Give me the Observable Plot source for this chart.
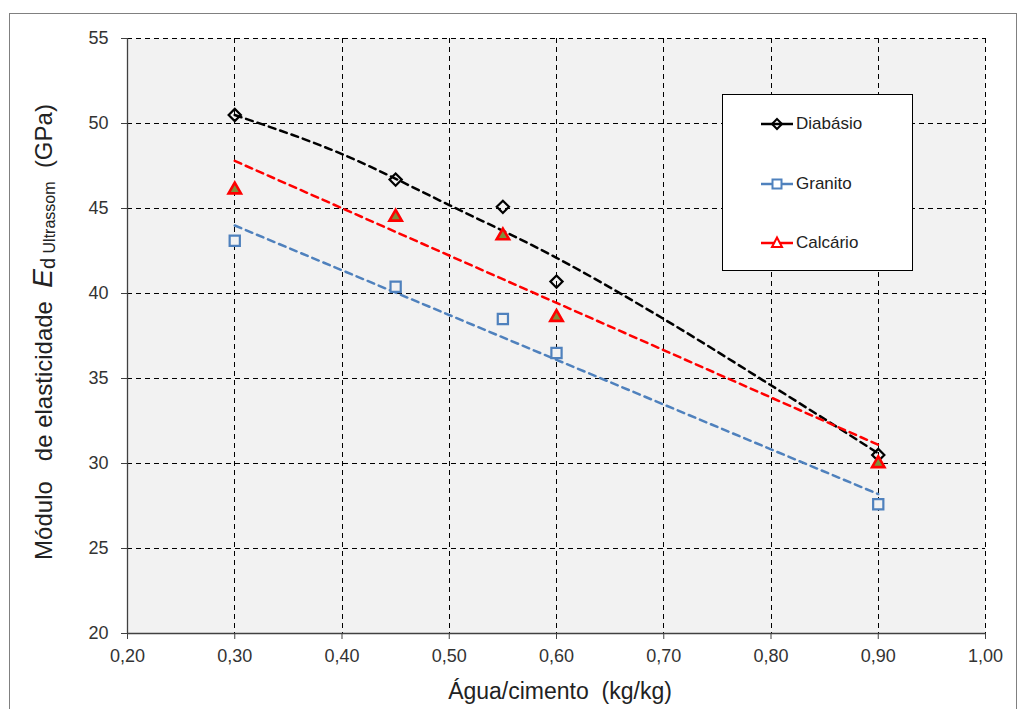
<!DOCTYPE html>
<html><head><meta charset="utf-8">
<script src="https://cdn.jsdelivr.net/npm/d3@7"></script>
<script src="https://cdn.jsdelivr.net/npm/@observablehq/plot@0.6"></script>
<style>
body{margin:0;background:#fff;font-family:"Liberation Sans",Arial,sans-serif;}
#wrap{position:relative;width:1017px;height:709px;overflow:hidden;}
#frame{position:absolute;left:9px;top:13px;width:1006px;height:720px;border:1px solid #808080;pointer-events:none;}
#legend{position:absolute;left:722px;top:94px;width:189px;height:175px;border:1px solid #000;background:#fff;}
.row{position:absolute;left:38px;height:20px;display:flex;align-items:center;font-size:17px;color:#222;white-space:nowrap;}
.row svg{margin-right:3px;}
</style></head>
<body><div id="wrap"><div id="frame"></div></div>
<script>
// ---- data ----
const waterCement = [0.30, 0.45, 0.55, 0.60, 0.90];
const diabasio = [50.5, 46.7, 45.1, 40.7, 30.5];
const granito  = [43.1, 40.4, 38.5, 36.5, 27.6];
const calcario = [46.1, 44.5, 43.4, 38.6, 30.0];

// trend lines
const trendDiabX = [0.30, 0.40, 0.50, 0.60, 0.70, 0.80, 0.90];
const trendDiabY = [50.5, 48.2, 45.2, 42.1, 38.5, 34.6, 30.6];
const trendLinX  = [0.30, 0.90];
const trendGranY = [44.0, 28.2];
const trendCalcY = [47.8, 31.1];

const xTicks = [0.20, 0.30, 0.40, 0.50, 0.60, 0.70, 0.80, 0.90, 1.00];
const yTicks = [20, 25, 30, 35, 40, 45, 50, 55];

const seriesNames  = ["Diabásio", "Granito", "Calcário"];
const seriesColors = ["#000000", "#4f81bd", "#ff0000"];

// ---- tables ----
const pts = (vals, s) => waterCement.map((x, i) => ({x, y: vals[i], s}));
const diabPts = pts(diabasio, seriesNames[0]);
const granPts = pts(granito, seriesNames[1]);
const calcPts = pts(calcario, seriesNames[2]);
const diabTrend = trendDiabX.map((x, i) => ({x, y: trendDiabY[i]}));
const granTrend = trendLinX.map((x, i) => ({x, y: trendGranY[i]}));
const calcTrend = trendLinX.map((x, i) => ({x, y: trendCalcY[i]}));

const fmt = d => d.toFixed(2).replace(".", ",");
const dash = "5,4";

const chart = Plot.plot({
  width: 1017, height: 709,
  marginLeft: 127, marginRight: 32, marginTop: 38, marginBottom: 76,
  style: {fontFamily: '"Liberation Sans", Arial, sans-serif', fontSize: "18px", background: "transparent", overflow: "visible"},
  x: {domain: [0.2, 1.0]},
  y: {domain: [20, 55]},
  marks: [
    Plot.frame({fill: "#f2f2f2", stroke: null}),
    Plot.gridX(xTicks.slice(1), {stroke: "#000", strokeOpacity: 1, strokeDasharray: dash, shapeRendering: "crispEdges"}),
    Plot.gridY(yTicks.slice(1), {stroke: "#000", strokeOpacity: 1, strokeDasharray: dash, shapeRendering: "crispEdges"}),
    Plot.ruleX([0.2], {stroke: "#404040", strokeWidth: 1.3}),
    Plot.ruleY([20], {stroke: "#404040", strokeWidth: 1.3}),
    Plot.axisX(xTicks, {tickFormat: fmt, tickSize: 6, tickPadding: 10, fontSize: 18, stroke: "#404040", fill: "#333", label: null}),
    Plot.axisY(yTicks, {tickSize: 6, tickPadding: 13, fontSize: 18, stroke: "#404040", fill: "#333", label: null}),
    Plot.line(diabTrend, {x: "x", y: "y", stroke: seriesColors[0], strokeWidth: 2.5, strokeDasharray: "7,5", curve: "monotone-x"}),
    Plot.line(granTrend, {x: "x", y: "y", stroke: seriesColors[1], strokeWidth: 2.5, strokeDasharray: "7,5"}),
    Plot.line(calcTrend, {x: "x", y: "y", stroke: seriesColors[2], strokeWidth: 2.5, strokeDasharray: "7,5"}),
    Plot.dot(diabPts, {x: "x", y: "y", symbol: "diamond2", r: 5.5, stroke: seriesColors[0], strokeWidth: 2.2, fill: "none"}),
    Plot.dot(granPts, {x: "x", y: "y", symbol: "square2", r: 6.5, stroke: seriesColors[1], strokeWidth: 2.2, fill: "#f2f2f2"}),
    Plot.dot(calcPts, {x: "x", y: "y", symbol: "triangle", r: 4.6, stroke: seriesColors[2], strokeWidth: 2.6, fill: "#7f8f3a"})
  ]
});

// axis titles
const svg = d3.select(chart);
const yl = svg.append("text")
  .attr("transform", "translate(52,332) rotate(-90)")
  .attr("text-anchor", "middle")
  .attr("fill", "#222")
  .attr("font-size", 24)
  .style("white-space", "pre");
yl.append("tspan").text("Módulo   de elasticidade  ");
yl.append("tspan").attr("font-style", "italic").attr("font-size", 28).text("E");
yl.append("tspan").attr("font-size", 20).attr("dy", 3).text("d");
yl.append("tspan").attr("font-size", 16).text(" Ultrassom");
yl.append("tspan").attr("dy", -3).text("  (GPa)");

svg.append("text")
  .attr("x", 560).attr("y", 699)
  .attr("text-anchor", "middle")
  .attr("fill", "#222")
  .attr("font-size", 23)
  .style("white-space", "pre")
  .text("Água/cimento  (kg/kg)");

const wrap = document.getElementById("wrap");
wrap.insertBefore(chart, wrap.firstChild);

// legend
const legend = document.createElement("div");
legend.id = "legend";
const rowTops = [19, 79, 138];
const glyphs = [
  '<path d="M16,3 L21,8 L16,13 L11,8 Z" fill="none" stroke="#000" stroke-width="2"/>',
  '<rect x="11.5" y="3.5" width="9" height="9" fill="#fff" stroke="#4f81bd" stroke-width="2"/>',
  '<path d="M16,2.5 L21,12 L11,12 Z" fill="#fff" stroke="#ff0000" stroke-width="2"/>'
];
seriesNames.forEach((name, i) => {
  const row = document.createElement("div");
  row.className = "row";
  row.style.top = rowTops[i] + "px";
  row.innerHTML = `<svg width="32" height="16"><line x1="0" y1="8" x2="32" y2="8" stroke="${seriesColors[i]}" stroke-width="2.5"/>${glyphs[i]}</svg><span>${name}</span>`;
  legend.appendChild(row);
});
wrap.appendChild(legend);
</script>
</body></html>
